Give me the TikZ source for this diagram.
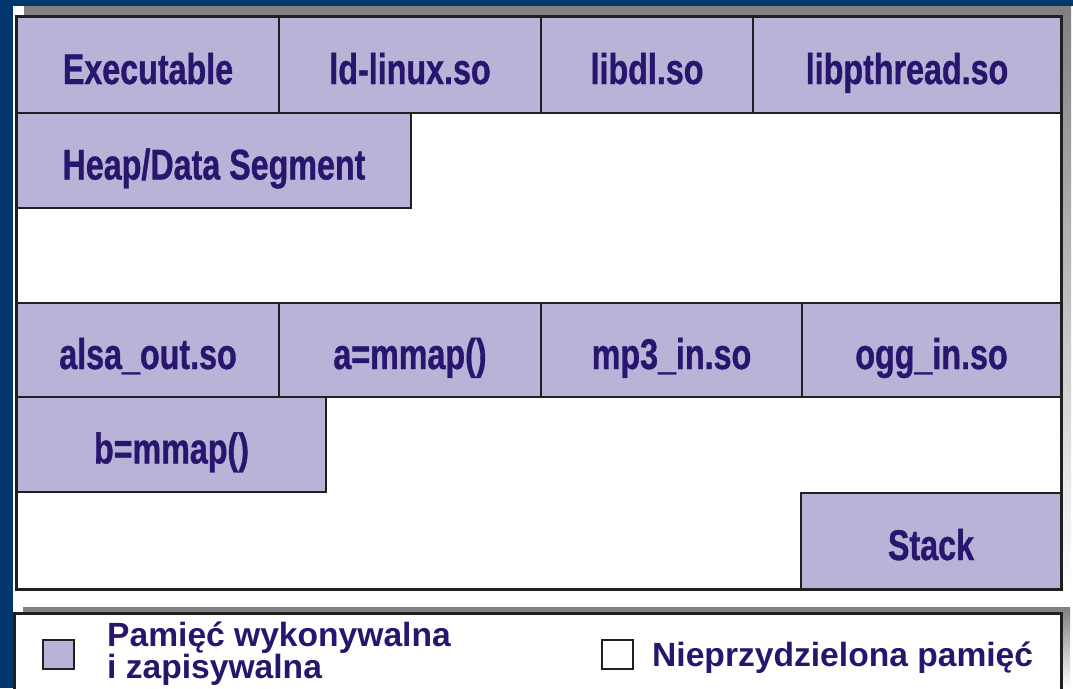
\documentclass[tikz,border=0pt]{standalone}
\usepackage{fontspec}
\newfontfamily\boxfont[FakeStretch=0.75,FakeBold=0.8]{Liberation Sans}
\newfontfamily\legendfont{Liberation Sans}
\definecolor{navybg}{RGB}{0,56,110}
\definecolor{lavender}{RGB}{185,179,215}
\definecolor{inkblue}{RGB}{40,22,110}
\definecolor{frame}{RGB}{35,31,32}
\definecolor{shade}{RGB}{45,41,38}
\tikzset{
  membox/.style={draw=frame, line width=2pt, fill=lavender, rectangle,
    anchor=north west, inner sep=0pt, outer sep=0pt,
    text height=38pt, text depth=0pt, text=inkblue,
    font=\boxfont\bfseries\fontsize{43}{43}\selectfont},
  legendtext/.style={text=inkblue, inner sep=0pt,
    font=\legendfont\bfseries\fontsize{33.6}{32}\selectfont},
  swatch/.style={draw=frame, line width=2.5pt}
}
\begin{document}
\begin{tikzpicture}[x=1pt,y=-1pt]
\useasboundingbox (0,0) rectangle (1073,688);
% backdrop
\fill[navybg] (0,0) rectangle (1073,688);
\fill[white] (13,6) rectangle (1073,688);
% memory map panel with its shadow
\fill[shade] (24,6) rectangle (1071,590);
\draw[frame, line width=3pt, fill=white] (16,16) rectangle (1061,589);
% first row: program and shared libraries
\node[membox, minimum width=262pt, minimum height=96pt] (exe) at (17,17) {Executable};
\node[membox, minimum width=262pt, minimum height=96pt] (ld) at (279,17) {ld-linux.so};
\node[membox, minimum width=212pt, minimum height=96pt] (dl) at (541,17) {libdl.so};
\node[membox, minimum width=308pt, minimum height=96pt] (pth) at (753,17) {libpthread.so};
% heap
\node[membox, minimum width=394pt, minimum height=95pt] (heap) at (17,113) {Heap/Data Segment};
% mapped region row
\node[membox, minimum width=262pt, minimum height=94pt] (alsa) at (17,303) {alsa\_out.so};
\node[membox, minimum width=262pt, minimum height=94pt] (amap) at (279,303) {a=mmap()};
\node[membox, minimum width=261pt, minimum height=94pt] (mp3) at (541,303) {mp3\_in.so};
\node[membox, minimum width=259pt, minimum height=94pt] (ogg) at (802,303) {ogg\_in.so};
\node[membox, minimum width=309pt, minimum height=95pt] (bmap) at (17,397) {b=mmap()};
% stack
\node[membox, minimum width=260pt, minimum height=96pt] (stack) at (801,493) {Stack};
% legend panel
\fill[shade] (23,607) rectangle (1070,688);
\draw[frame, line width=3pt, fill=white] (14.5,613) rectangle (1061,700);
\draw[swatch, fill=lavender] (43,640) rectangle (74,669);
\node[legendtext, anchor=base west, align=left] (leg1) at (107,678)
  {Pamięć wykonywalna\\i zapisywalna};
\draw[swatch, fill=white] (602,640) rectangle (633,669);
\node[legendtext, anchor=base west] (leg2) at (652,666) {Nieprzydzielona pamięć};
\end{tikzpicture}
\end{document}
